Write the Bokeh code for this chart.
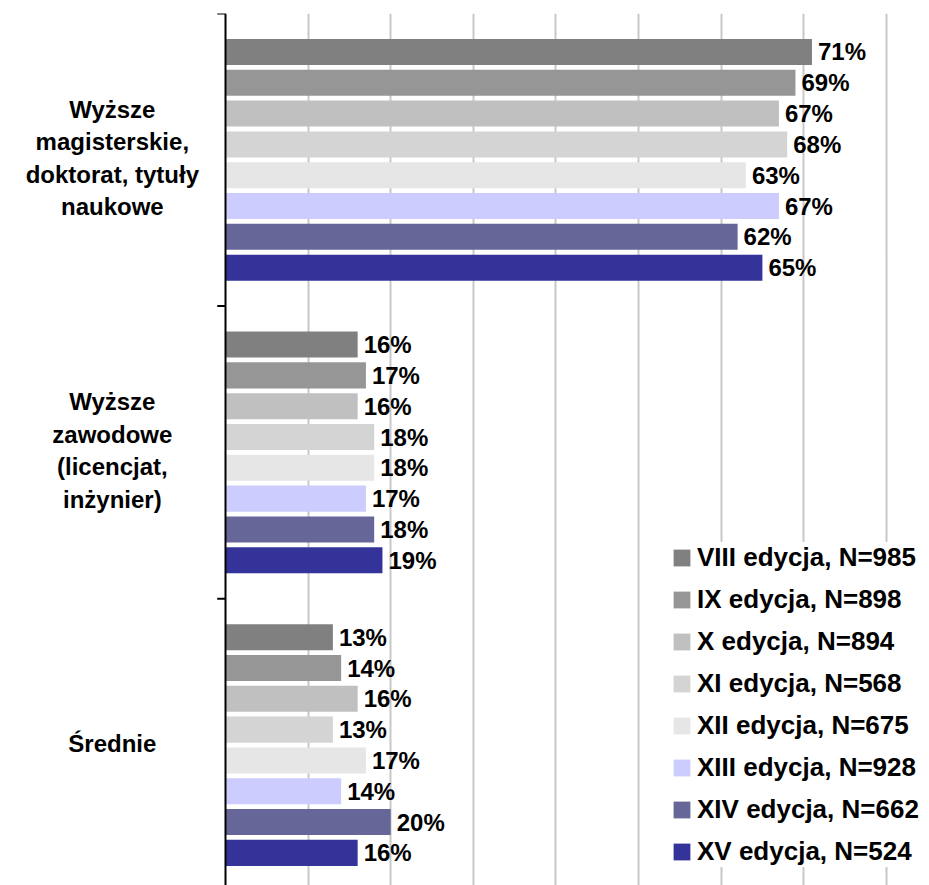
from bokeh.plotting import figure
from bokeh.models import ColumnDataSource, Range1d, FixedTicker, Span, Legend, LegendItem
from bokeh.core.properties import value
from bokeh.embed import file_html
from bokeh.resources import INLINE

categories = ["Wyższe\nmagisterskie,\ndoktorat, tytuły\nnaukowe",
              "Wyższe\nzawodowe\n(licencjat,\ninżynier)",
              "Średnie"]
series_names = ["VIII edycja, N=985", "IX edycja, N=898", "X edycja, N=894",
                "XI edycja, N=568", "XII edycja, N=675", "XIII edycja, N=928",
                "XIV edycja, N=662", "XV edycja, N=524"]
colors = ["#808080", "#969696", "#C0C0C0", "#D4D4D4", "#E6E6E6", "#CCCCFF", "#666699", "#333399"]
values_VIII = [71, 16, 13]
values_IX = [69, 17, 14]
values_X = [67, 16, 16]
values_XI = [68, 18, 13]
values_XII = [63, 18, 17]
values_XIII = [67, 17, 14]
values_XIV = [62, 18, 20]
values_XV = [65, 19, 16]
series_values = [values_VIII, values_IX, values_X, values_XI, values_XII,
                 values_XIII, values_XIV, values_XV]
grid_ticks = [10, 20, 30, 40, 50, 60, 70, 80]

FONT = "Liberation Sans"
n_ser = len(series_names)
pitch = 0.1053
bar_h = 0.089

p = figure(width=929, height=885, output_backend="svg", toolbar_location=None,
           x_range=Range1d(-27.24, 85.23), y_range=Range1d(2.98, 0),
           x_axis_location=None, y_axis_location=None,
           min_border_left=0, min_border_right=0, min_border_top=13, min_border_bottom=0)
p.outline_line_color = None
p.ygrid.visible = False
p.xgrid.ticker = FixedTicker(ticks=grid_ticks)
p.xgrid.grid_line_color = "#C8C8C8"
p.xgrid.grid_line_width = 2

renderers = []
for j, (name, vals, col) in enumerate(zip(series_names, series_values, colors)):
    ys = [i + 0.5 + (j - (n_ser - 1) / 2) * pitch for i in range(len(categories))]
    src = ColumnDataSource(dict(y=ys, v=vals, t=[f"{v}%" for v in vals]))
    r = p.hbar(y="y", left=0, right="v", height=bar_h, source=src,
               fill_color=col, line_color=None)
    renderers.append((name, r))
    p.text(x="v", y="y", text="t", source=src, x_offset=6,
           text_baseline="middle", text_align="left",
           text_font=value(FONT), text_font_style="bold",
           text_font_size="24px", text_color="#000000")

# axis line and category boundary ticks
p.add_layout(Span(location=0, dimension="height", line_color="#000000", line_width=2))
p.segment(x0=[-1.0] * 3, x1=[0] * 3, y0=[0, 1, 2], y1=[0, 1, 2],
          line_color="#000000", line_width=2)

# category labels
p.text(x=[-13.7] * 3, y=[i + 0.5 for i in range(len(categories))], text=categories,
       y_offset=-2,
       text_align="center", text_baseline="middle", text_line_height=1.2,
       text_font=value(FONT), text_font_style="bold", text_font_size="24px",
       text_color="#000000")

legend = Legend(items=[LegendItem(label=n, renderers=[r]) for n, r in renderers],
                location=(671, 18), orientation="vertical",
                label_text_font=FONT, label_text_font_style="bold",
                label_text_font_size="26px", label_text_color="#000000",
                glyph_width=21, glyph_height=21, label_height=30, label_standoff=5,
                spacing=11, padding=6, margin=0,
                background_fill_color="#FFFFFF", background_fill_alpha=1.0,
                border_line_color=None)
p.add_layout(legend)

open("out.html", "w").write(file_html(p, INLINE))
